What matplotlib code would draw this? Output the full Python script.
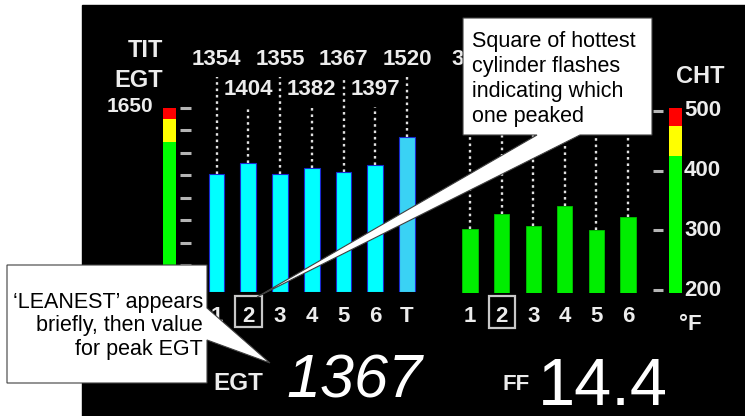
import matplotlib
matplotlib.use('Agg')
import matplotlib.pyplot as plt
from matplotlib.patches import Rectangle, Polygon
from matplotlib.transforms import blended_transform_factory as blend
import numpy as np

plt.rcParams['font.family'] = ['Liberation Sans', 'DejaVu Sans']

# ---------------- data ----------------
egt_cyl = ['1', '2', '3', '4', '5', '6', 'T']
egt_vals = [1354, 1404, 1355, 1382, 1367, 1397, 1520]
cht_cyl = ['1', '2', '3', '4', '5', '6']
cht_vals = [303, 328, 307, 340, 300, 323]
egt_ticks = [1650, 1550, 1450, 1350, 1250, 1150, 1050, 950, 850]
cht_ticks = [500, 400, 300, 200]
egt_bands = [(830, 1500, '#00ff00'), (1500, 1600, '#ffff00'), (1600, 1650, '#ff0000')]
cht_bands = [(195, 425, '#00ff00'), (425, 475, '#ffff00'), (475, 505, '#ff0000')]
peak_cyl = 1            # index of cylinder whose square flashes
peak_egt = '1367'
fuel_flow = '14.4'
egt_top_label = '1650'
callout_right = ['Square of hottest', 'cylinder flashes', 'indicating which', 'one peaked']
callout_left = ['\u2018LEANEST\u2019 appears', 'briefly, then value', 'for peak EGT']

# ---------------- figure ----------------
W, H = 745, 416
fig = plt.figure(figsize=(W / 100, H / 100), dpi=100)
fig.patch.set_facecolor('white')


def px_axes(x0, x1, y0, y1, z):
    ax = fig.add_axes([x0 / W, 1 - y1 / H, (x1 - x0) / W, (y1 - y0) / H], zorder=z)
    ax.set_axis_off()
    return ax


bg = px_axes(0, W, 0, H, 0)
bg.set_xlim(0, W)
bg.set_ylim(H, 0)
bg.add_patch(Rectangle((82, 5), W - 82, H - 5, color='black'))

LBL = '#ececec'
bold = dict(weight='bold', color=LBL)

# ---------------- EGT section ----------------
EX0, EDX = 216.5, 31.75
EYLO, EYHI = 830, 1650
egt = px_axes(140, 430, 108, 292, 1)
etr = blend(egt.transData, bg.transData)

xs = np.arange(len(egt_vals))
colors = ['#00ffff'] * (len(egt_vals) - 1) + ['#3ad2f4']
egt.bar(xs, np.array(egt_vals) - EYLO, bottom=EYLO, width=0.49, color=colors,
        edgecolor='#1a2ad0', linewidth=0.8, zorder=2)

gx = (169.5 - EX0) / EDX
for lo, hi, c in egt_bands:
    egt.bar(gx, hi - lo, bottom=lo, width=13 / EDX, color=c, linewidth=0)
egt.hlines(egt_ticks, (180 - EX0) / EDX, (191 - EX0) / EDX, color='#b4b4b4', lw=2.2, clip_on=False)

egt.set_xlim((140 - EX0) / EDX, (430 - EX0) / EDX)
egt.set_ylim(EYLO, EYHI)


def px_to_data(ax, ypx):
    disp = bg.transData.transform((0, ypx))
    return ax.transData.inverted().transform(disp)[1]


for i, (v, c) in enumerate(zip(egt_vals, egt_cyl)):
    base = 65 if i % 2 == 0 else 95
    egt.text(i, base, str(v), transform=etr, ha='center', va='baseline', fontsize=16, **bold)
    top = px_to_data(egt, base + 12)
    egt.plot([i, i], [v, top], color='#e0e0e0', lw=1.7, ls=(0, (1.1, 1.6)), clip_on=False, zorder=1)
    egt.text(i, 322, c, transform=etr, ha='center', va='baseline', fontsize=16, **bold)

egt.add_patch(Rectangle((peak_cyl - 13.5 / EDX, 296), 27 / EDX, 31, transform=etr, fill=False,
                        edgecolor='#c8c8c8', lw=1.6, clip_on=False))

bg.text(163, 57, 'TIT', ha='right', va='baseline', fontsize=17, **bold)
bg.text(163, 87, 'EGT', ha='right', va='baseline', fontsize=17, **bold)
bg.text(153, 112, egt_top_label, ha='right', va='baseline', fontsize=15, **bold)

# ---------------- CHT section ----------------
CX0, CDX = 470, 31.6
CYLO, CYHI = 195, 505
cht = px_axes(450, 740, 108, 293, 1)
ctr = blend(cht.transData, bg.transData)
cx = np.arange(len(cht_vals))
cht.bar(cx, np.array(cht_vals) - CYLO, bottom=CYLO, width=0.48, color='#00ee00',
        edgecolor='#00c000', linewidth=0.6, zorder=2)
cgx = (675.5 - CX0) / CDX
for lo, hi, c in cht_bands:
    cht.bar(cgx, hi - lo, bottom=lo, width=13 / CDX, color=c, linewidth=0)
cht.hlines(cht_ticks, (653 - CX0) / CDX, (663 - CX0) / CDX, color='#b4b4b4', lw=2.2, clip_on=False)
cht.set_xlim((450 - CX0) / CDX, (740 - CX0) / CDX)
cht.set_ylim(CYLO, CYHI)

for i, (v, c) in enumerate(zip(cht_vals, cht_cyl)):
    base = 65 if i % 2 == 0 else 95
    cht.text(i, base, str(v), transform=ctr, ha='center', va='baseline', fontsize=16, **bold)
    top = px_to_data(cht, base + 12)
    cht.plot([i, i], [v, top], color='#e0e0e0', lw=1.7, ls=(0, (1.1, 1.6)), clip_on=False, zorder=1)
    cht.text(i, 322, c, transform=ctr, ha='center', va='baseline', fontsize=16, **bold)

cht.add_patch(Rectangle((peak_cyl - 13 / CDX, 296), 26 / CDX, 32, transform=ctr, fill=False,
                        edgecolor='#c8c8c8', lw=1.6, clip_on=False))

ctr2 = blend(bg.transData, cht.transData)
for t in cht_ticks:
    cht.text(684, t, str(t), transform=ctr2, ha='left', va='center', fontsize=16, **bold)
bg.text(700, 83, 'CHT', ha='center', va='baseline', fontsize=17, **bold)
bg.text(690, 330, '\u00b0F', ha='center', va='baseline', fontsize=16, **bold)

# ---------------- bottom readouts ----------------
bg.text(238, 390, 'EGT', ha='center', va='baseline', fontsize=17.5, **bold)
bg.text(286, 398, peak_egt, ha='left', va='baseline', fontsize=44, style='italic', color='white')
bg.text(516, 390, 'FF', ha='center', va='baseline', fontsize=16, **bold)
bg.text(538, 405, fuel_flow, ha='left', va='baseline', fontsize=48, color='white')

# ---------------- callouts ----------------
ov = px_axes(0, W, 0, H, 3)
ov.set_xlim(0, W)
ov.set_ylim(H, 0)
ov.add_patch(Polygon([(463, 18), (652, 18), (652, 135), (580, 135), (257, 297), (537, 135), (463, 135)],
                     closed=True, facecolor='white', edgecolor='#404040', lw=0.8))
ov.add_patch(Polygon([(7, 265), (207, 265), (207, 308), (270, 363), (207, 340), (207, 383), (7, 383)],
                     closed=True, facecolor='white', edgecolor='#404040', lw=0.8))
for k, line in enumerate(callout_right):
    ov.text(472, 47 + 25 * k, line, ha='left', va='baseline', fontsize=15.5, color='black')
for k, line in enumerate(callout_left):
    ov.text(203, 308 + 23.5 * k, line, ha='right', va='baseline', fontsize=15.5, color='black')

fig.savefig('out.png', dpi=100, facecolor='white')
